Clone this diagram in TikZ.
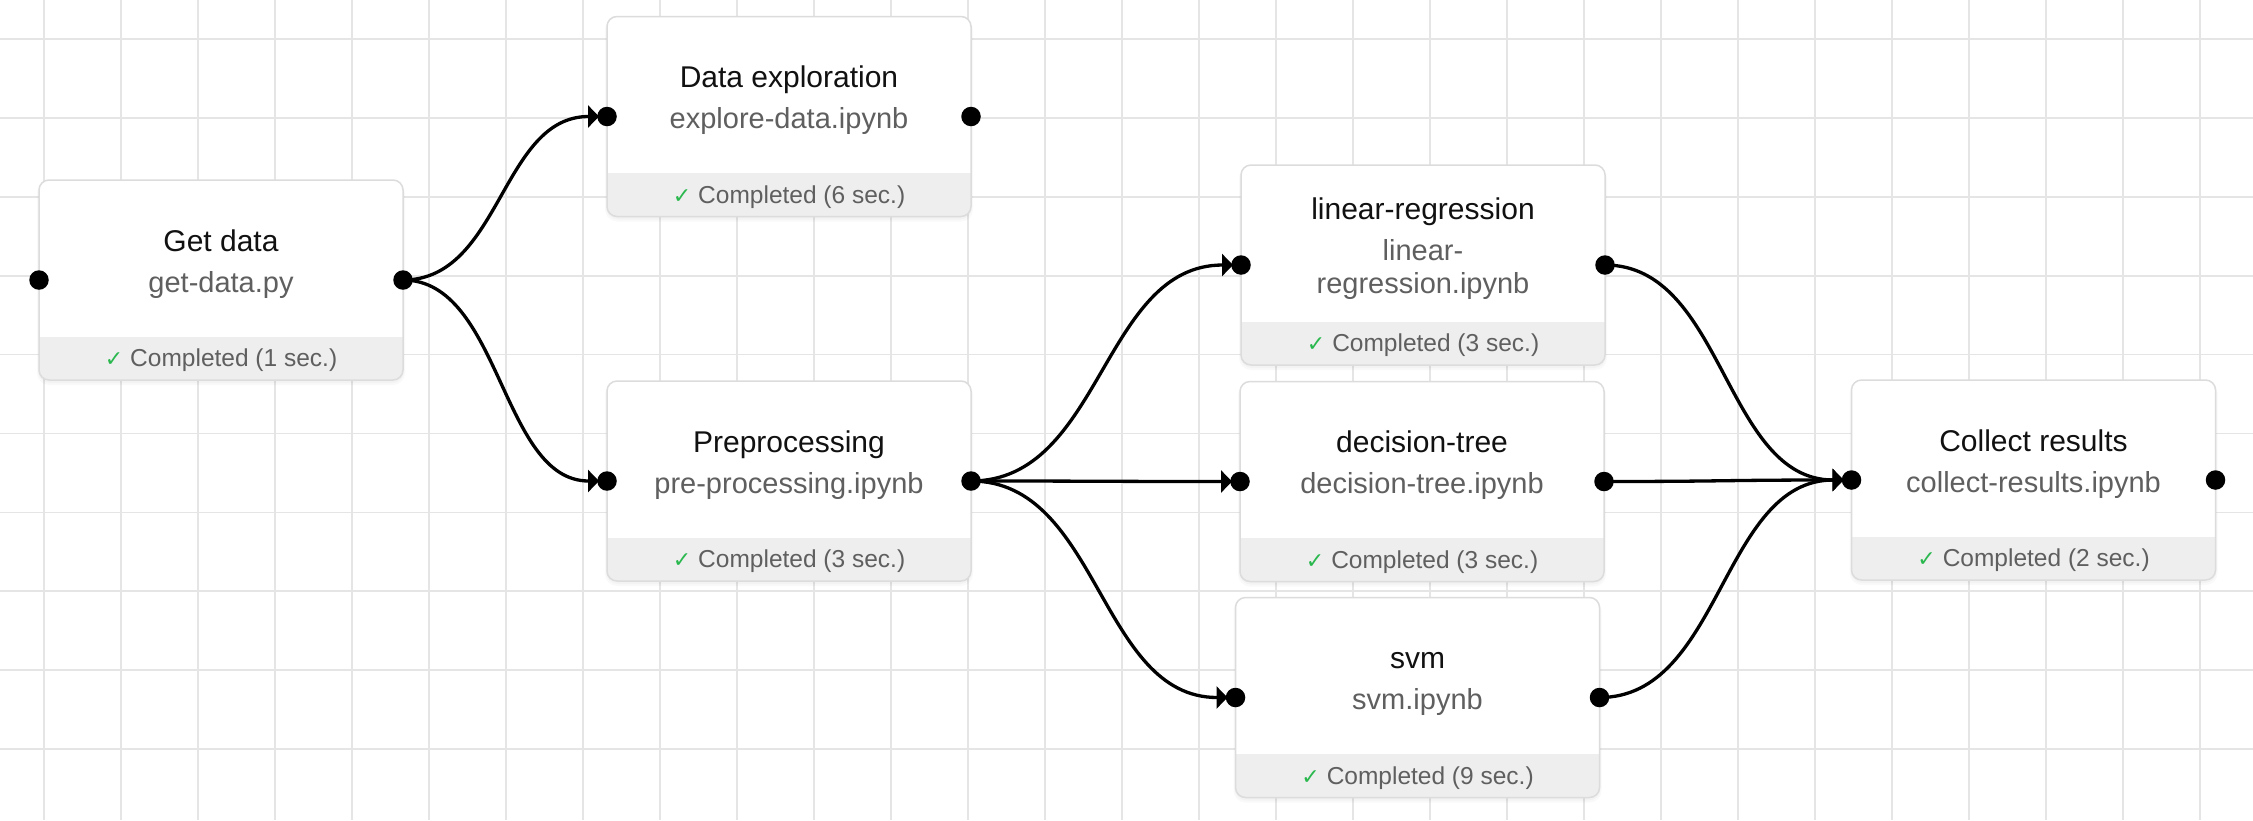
\documentclass[tikz,border=0pt]{standalone}
\usepackage{fontspec}
\setmainfont{Liberation Sans}
\newfontfamily\checkfont{DejaVu Sans}
\usetikzlibrary{arrows.meta,calc}
\definecolor{gridc}{HTML}{E5E5E5}
\definecolor{boxborder}{HTML}{DCDCDC}
\definecolor{bandc}{HTML}{EEEEEE}
\definecolor{titlec}{HTML}{111111}
\definecolor{filec}{HTML}{5F5F5F}
\definecolor{statc}{HTML}{5F5F5F}
\definecolor{okgreen}{HTML}{2AB84E}
\tikzset{
  jobframe/.style={fill=white, rounded corners=10pt, minimum width=364pt, minimum height=200pt, inner sep=0pt, outer sep=0pt},
  shadowlayer/.style={fill=black, fill opacity=0.025, rounded corners=12pt},
  titletext/.style={font=\fontsize{30}{36}\selectfont, text=titlec, inner sep=0pt, anchor=base},
  filetext/.style={font=\fontsize{29}{35}\selectfont, text=filec, inner sep=0pt, anchor=base},
  statustext/.style={font=\fontsize{24.5}{30}\selectfont, text=statc, inner sep=0pt, anchor=base},
  port/.style={circle, fill=black, minimum size=19.5pt, inner sep=0pt},
  edge/.style={line width=3.3pt, -{Triangle[length=11pt,width=22pt]}},
  gridline/.style={gridc, line width=1.7pt},
}
\newcommand\jobbox[4]{%
  \fill[shadowlayer] (#2-2,#3+1) rectangle (#2+366,#3+205);
  \fill[shadowlayer] (#2-1,#3+1) rectangle (#2+365,#3+203);
  \node[jobframe, anchor=north west] (#1) at (#2,#3) {};
  \begin{scope}
    \clip[rounded corners=10pt] (#1.north west) rectangle (#1.south east);
    \fill[bandc] ($(#1.south west)+(0,-43.5)$) rectangle (#1.south east);
  \end{scope}
  \draw[boxborder, line width=1.5pt, rounded corners=10pt] (#1.north west) rectangle (#1.south east);
  \node[statustext] (#1-status) at ($(#1.north)+(0,186.5)$) {{\checkfont\fontsize{22}{24}\selectfont\color{okgreen}✓}\hspace{7pt}Completed (#4 sec.)};
  \coordinate (#1-in) at (#1.west);
  \coordinate (#1-out) at (#1.east);
}
\newcommand\flow[2]{%
  \draw[edge] let \p1=(#1), \p2=(#2) in (\p1) .. controls ({0.5*\x1+0.5*\x2-4pt},\y1) and ({0.5*\x1+0.5*\x2-4pt},\y2) .. ({\x2-8pt},\y2);}
\begin{document}
\begin{tikzpicture}[x=1pt,y=-1pt]
\useasboundingbox (0,0) rectangle (2253,820);
\fill[white] (0,0) rectangle (2253,820);
\foreach \i in {0,...,28} \draw[gridline] ({44+77*\i},0) -- ({44+77*\i},820);
\foreach \j in {0,...,9} \draw[gridline] (0,{39+78.9*\j}) -- (2253,{39+78.9*\j});

\jobbox{gd}{39}{180}{1}
\jobbox{de}{607}{16.5}{6}
\jobbox{pp}{607}{381}{3}
\jobbox{lr}{1241}{165}{3}
\jobbox{dt}{1240}{381.5}{3}
\jobbox{sv}{1235.5}{597.5}{9}
\jobbox{cr}{1851.5}{380}{2}

\node[titletext] (gd-title) at ($(gd.north)+(0,71)$) {Get data};
\node[filetext] (gd-file) at ($(gd.north)+(0,112)$) {get-data.py};
\node[titletext] (de-title) at ($(de.north)+(0,71)$) {Data exploration};
\node[filetext] (de-file) at ($(de.north)+(0,112)$) {explore-data.ipynb};
\node[titletext] (pp-title) at ($(pp.north)+(0,71)$) {Preprocessing};
\node[filetext] (pp-file) at ($(pp.north)+(0,112)$) {pre-processing.ipynb};
\node[titletext] (lr-title) at ($(lr.north)+(0,54.5)$) {linear-regression};
\node[filetext] (lr-file1) at ($(lr.north)+(0,95)$) {linear-};
\node[filetext] (lr-file2) at ($(lr.north)+(0,128)$) {regression.ipynb};
\node[titletext] (dt-title) at ($(dt.north)+(0,71)$) {decision-tree};
\node[filetext] (dt-file) at ($(dt.north)+(0,112)$) {decision-tree.ipynb};
\node[titletext] (sv-title) at ($(sv.north)+(0,71)$) {svm};
\node[filetext] (sv-file) at ($(sv.north)+(0,112)$) {svm.ipynb};
\node[titletext] (cr-title) at ($(cr.north)+(0,71)$) {Collect results};
\node[filetext] (cr-file) at ($(cr.north)+(0,112)$) {collect-results.ipynb};

\flow{gd-out}{de-in}
\flow{gd-out}{pp-in}
\flow{pp-out}{lr-in}
\flow{pp-out}{dt-in}
\flow{pp-out}{sv-in}
\flow{lr-out}{cr-in}
\flow{dt-out}{cr-in}
\flow{sv-out}{cr-in}

\foreach \b in {gd,de,pp,lr,dt,sv,cr}{
  \node[port] (\b-indot) at (\b-in) {};
  \node[port] (\b-outdot) at (\b-out) {};
}
\end{tikzpicture}
\end{document}
